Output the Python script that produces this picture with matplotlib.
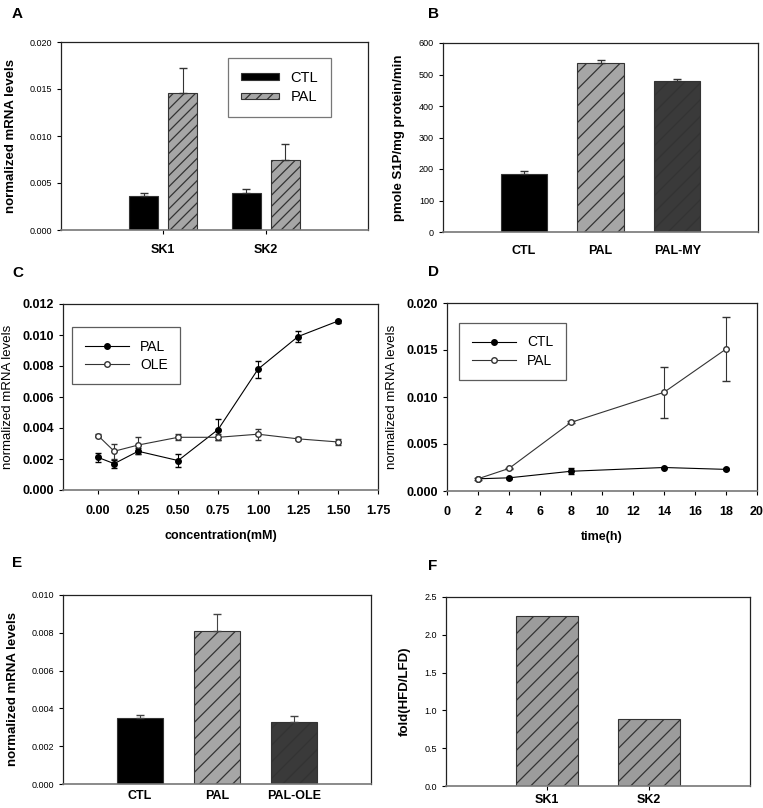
import numpy as np
import matplotlib
matplotlib.use("Agg")
import matplotlib.pyplot as plt

plt.rcParams['font.family'] = ['Liberation Sans', 'DejaVu Sans']
plt.rcParams['hatch.linewidth'] = 0.9

# ---- data ----
# A: SK1 / SK2 mRNA, CTL vs PAL
a_genes = ['SK1', 'SK2']
a_ctl = [0.0036, 0.0039]
a_ctl_err = [0.0003, 0.0005]
a_pal = [0.0146, 0.0074]
a_pal_err = [0.0026, 0.0017]

# B: S1P production
b_groups = ['CTL', 'PAL', 'PAL-MY']
b_vals = [185, 537, 478]
b_err = [10, 8, 8]

# C: dose response
c_conc = [0.0, 0.1, 0.25, 0.5, 0.75, 1.0, 1.25, 1.5]
c_pal = [0.0021, 0.0017, 0.0025, 0.0019, 0.0039, 0.0078, 0.0099, 0.0109]
c_pal_err = [0.0003, 0.00025, 0.0002, 0.0004, 0.0007, 0.00055, 0.00035, 0.0001]
c_ole = [0.0035, 0.0025, 0.0029, 0.0034, 0.0034, 0.0036, 0.0033, 0.0031]
c_ole_err = [0.0001, 0.0005, 0.00055, 0.0002, 0.0002, 0.00035, 0.0001, 0.0002]
c_xticks = [0.0, 0.25, 0.5, 0.75, 1.0, 1.25, 1.5, 1.75]

# D: time course
d_time = [2, 4, 8, 14, 18]
d_ctl = [0.0013, 0.0014, 0.0021, 0.0025, 0.0023]
d_ctl_err = [0.0001, 0.0001, 0.0003, 0.0001, 0.0001]
d_pal = [0.0013, 0.0024, 0.0073, 0.0105, 0.0151]
d_pal_err = [0.0001, 0.0001, 0.0001, 0.0027, 0.0034]

# E: PAL / OLE
e_groups = ['CTL', 'PAL', 'PAL-OLE']
e_vals = [0.0035, 0.0081, 0.0033]
e_err = [0.00015, 0.0009, 0.0003]

# F: fold change HFD/LFD
f_genes = ['SK1', 'SK2']
f_fold = [2.25, 0.88]

W, H = 763, 808
fig = plt.figure(figsize=(W / 100, H / 100), dpi=100)

def add_ax(x0, y0, x1, y1):
    return fig.add_axes([x0 / W, 1 - y1 / H, (x1 - x0) / W, (y1 - y0) / H])

def style(ax, bold_ticks=False, tsize=6.5):
    ax.tick_params(direction='out', length=3, width=0.8, labelsize=tsize)
    for s in ax.spines.values():
        s.set_linewidth(0.9)
        s.set_color('#222222')
    ax.spines['bottom'].set_color('#777777')
    ax.spines['bottom'].set_linewidth(1.2)
    if bold_ticks:
        for t in ax.get_xticklabels() + ax.get_yticklabels():
            t.set_fontweight('bold')

def frame(leg, color='#333'):
    leg.get_frame().set_edgecolor(color)
    leg.get_frame().set_linewidth(0.9)

GRAY = '#a6a6a6'
DARK = '#3a3a3a'
EDGE = '#333333'

def panel_label(x, y, s):
    fig.text(x / W, 1 - y / H, s, fontsize=11, fontweight='bold', va='center', ha='left')

# ---- A ----
ax = add_ax(61, 42, 368, 230)
xa = np.arange(len(a_genes))
w = 0.285
ax.bar(xa - 0.19, a_ctl, w, color='black', edgecolor=EDGE, lw=0.8, label='CTL')
ax.bar(xa + 0.19, a_pal, w, color=GRAY, edgecolor=EDGE, lw=0.8, hatch='///', label='PAL')
ax.errorbar(xa - 0.19, a_ctl, yerr=[np.zeros(2), a_ctl_err], fmt='none', ecolor='#333', elinewidth=0.8, capsize=3)
ax.errorbar(xa + 0.19, a_pal, yerr=[np.zeros(2), a_pal_err], fmt='none', ecolor='#333', elinewidth=0.8, capsize=3)
ax.set_xlim(-1, 2)
ax.set_ylim(0, 0.020)
ax.set_yticks(np.arange(0, 0.0201, 0.005))
ax.yaxis.set_major_formatter(matplotlib.ticker.FormatStrFormatter('%.3f'))
ax.set_xticks(xa)
ax.set_xticklabels(a_genes, fontsize=9, fontweight='bold')
ax.set_ylabel('normalized mRNA levels', fontsize=9.5, fontweight='bold', labelpad=9)
style(ax)
ax.tick_params(axis='x', labelsize=9, pad=7)
leg = ax.legend(loc='upper left', bbox_to_anchor=(0.544, 0.915), fontsize=10.5, frameon=True,
                fancybox=False, handlelength=2.6, handleheight=0.35, borderpad=0.9,
                labelspacing=0.35, borderaxespad=0)
frame(leg, '#555555')
panel_label(12, 14, 'A')

# ---- B ----
ax = add_ax(443, 43, 758, 232)
xb = np.arange(len(b_groups))
ax.bar(xb[:1], b_vals[:1], 0.6, color='black', edgecolor=EDGE, lw=0.8)
ax.bar(xb[1:], b_vals[1:], 0.6, color=[GRAY, DARK], edgecolor=EDGE, lw=0.8, hatch='//')
ax.errorbar(xb, b_vals, yerr=[np.zeros(3), b_err], fmt='none', ecolor='#333', elinewidth=0.8, capsize=3)
ax.set_xlim(-1.05, 3.05)
ax.set_ylim(0, 600)
ax.set_yticks(np.arange(0, 601, 100))
ax.set_xticks(xb)
ax.set_xticklabels(b_groups, fontsize=9, fontweight='bold')
ax.set_ylabel('pmole S1P/mg protein/min', fontsize=9.5, fontweight='bold', labelpad=10)
style(ax)
ax.tick_params(axis='x', length=0, labelsize=9, pad=9)
panel_label(428, 14, 'B')

# ---- C ----
ax = add_ax(63, 304, 378, 490)
ax.errorbar(c_conc, c_pal, yerr=c_pal_err, fmt='none', ecolor='black', capsize=2.5, elinewidth=0.8)
ax.errorbar(c_conc, c_ole, yerr=c_ole_err, fmt='none', ecolor='#333', capsize=2.5, elinewidth=0.8)
ax.plot(c_conc, c_pal, color='black', lw=0.8, marker='o', ms=4, mfc='black', mec='black', label='PAL')
ax.plot(c_conc, c_ole, color='#333', lw=0.8, marker='o', ms=4, mfc='white', mec='#333', label='OLE')
ax.set_xlim(-0.22, 1.75)
ax.set_ylim(0, 0.012)
ax.set_xticks(c_xticks)
ax.xaxis.set_major_formatter(matplotlib.ticker.FormatStrFormatter('%.2f'))
ax.set_yticks(np.arange(0, 0.0121, 0.002))
ax.yaxis.set_major_formatter(matplotlib.ticker.FormatStrFormatter('%.3f'))
ax.set_xlabel('concentration(mM)', fontsize=9, fontweight='bold', labelpad=9)
ax.set_ylabel('normalized mRNA levels', fontsize=9.5, labelpad=6)
style(ax, bold_ticks=True, tsize=9)
ax.tick_params(axis='x', pad=8)
leg = ax.legend(loc='upper left', bbox_to_anchor=(0.029, 0.876), fontsize=10, frameon=True,
                fancybox=False, handlelength=3.2, borderpad=0.9, labelspacing=0.3,
                borderaxespad=0)
frame(leg)
panel_label(12, 273, 'C')

# ---- D ----
ax = add_ax(447, 303, 757, 491)
ax.errorbar(d_time, d_ctl, yerr=d_ctl_err, fmt='none', ecolor='black', capsize=2.5, elinewidth=0.8)
ax.errorbar(d_time, d_pal, yerr=d_pal_err, fmt='none', ecolor='#333', capsize=3, elinewidth=0.8)
ax.plot(d_time, d_ctl, color='black', lw=0.8, marker='o', ms=4, mfc='black', mec='black', label='CTL')
ax.plot(d_time, d_pal, color='#333', lw=0.8, marker='o', ms=4, mfc='white', mec='#333', label='PAL')
ax.set_xlim(0, 20)
ax.set_ylim(0, 0.020)
ax.set_xticks(np.arange(0, 21, 2))
ax.set_yticks(np.arange(0, 0.0201, 0.005))
ax.yaxis.set_major_formatter(matplotlib.ticker.FormatStrFormatter('%.3f'))
ax.set_xlabel('time(h)', fontsize=9, fontweight='bold', labelpad=9)
ax.set_ylabel('normalized mRNA levels', fontsize=9.5, labelpad=6)
style(ax, bold_ticks=True, tsize=9)
ax.tick_params(axis='x', pad=8)
leg = ax.legend(loc='upper left', bbox_to_anchor=(0.039, 0.894), fontsize=10, frameon=True,
                fancybox=False, handlelength=3.2, borderpad=0.9, labelspacing=0.3,
                borderaxespad=0)
frame(leg)
panel_label(428, 272, 'D')

# ---- E ----
ax = add_ax(63, 595, 371, 784)
xe = np.arange(len(e_groups))
ax.bar(xe[:1], e_vals[:1], 0.6, color='black', edgecolor=EDGE, lw=0.8)
ax.bar(xe[1:], e_vals[1:], 0.6, color=[GRAY, DARK], edgecolor=EDGE, lw=0.8, hatch='//')
ax.errorbar(xe, e_vals, yerr=[np.zeros(3), e_err], fmt='none', ecolor='#444', elinewidth=0.8, capsize=3)
ax.set_xlim(-1, 3)
ax.set_ylim(0, 0.010)
ax.set_yticks(np.arange(0, 0.01001, 0.002))
ax.yaxis.set_major_formatter(matplotlib.ticker.FormatStrFormatter('%.3f'))
ax.set_xticks(xe)
ax.set_xticklabels(e_groups, fontsize=9, fontweight='bold')
ax.set_ylabel('normalized mRNA levels', fontsize=9.5, fontweight='bold', labelpad=9)
style(ax)
ax.tick_params(axis='x', length=0, labelsize=9, pad=4)
panel_label(12, 563, 'E')

# ---- F ----
ax = add_ax(446, 597, 750, 786)
xf = np.arange(len(f_genes))
ax.bar(xf, f_fold, 0.61, color='#9c9c9c', edgecolor=EDGE, lw=0.8, hatch='//')
ax.set_xlim(-1, 2)
ax.set_ylim(0, 2.5)
ax.set_yticks(np.arange(0, 2.51, 0.5))
ax.yaxis.set_major_formatter(matplotlib.ticker.FormatStrFormatter('%.1f'))
ax.set_xticks(xf)
ax.set_xticklabels(f_genes, fontsize=9, fontweight='bold')
ax.set_ylabel('fold(HFD/LFD)', fontsize=9.5, fontweight='bold', labelpad=10)
style(ax)
ax.tick_params(axis='x', labelsize=9, pad=3)
panel_label(428, 566, 'F')

fig.savefig('out.png', dpi=100)
